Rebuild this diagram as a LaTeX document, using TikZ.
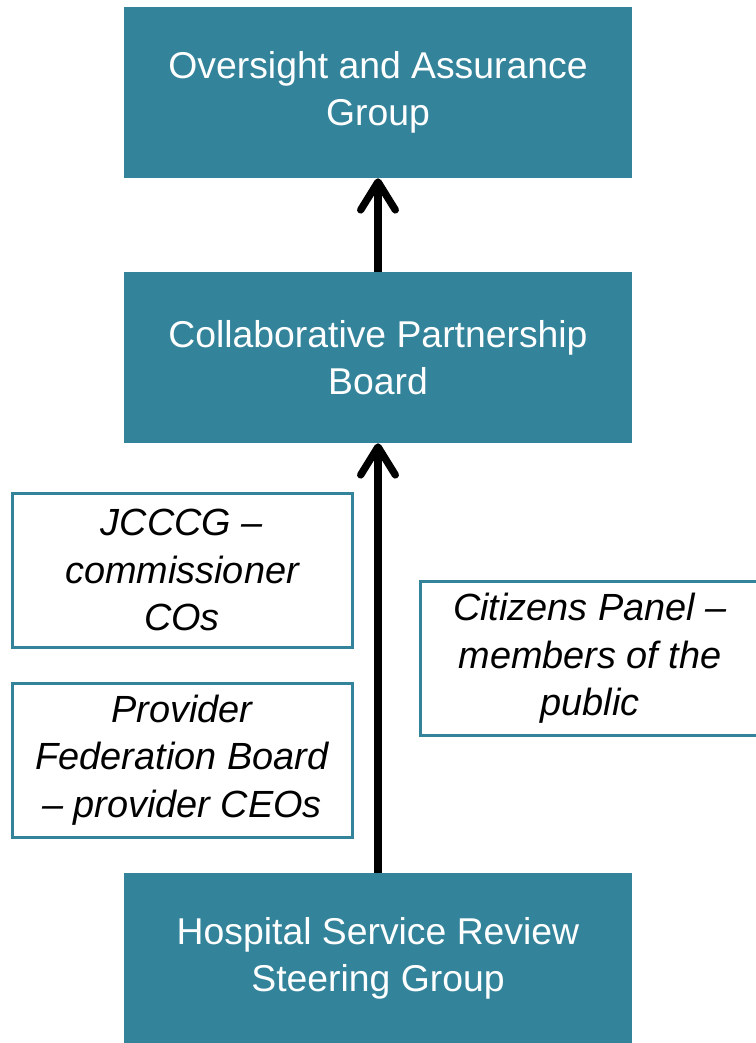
\documentclass[tikz,border=0pt]{standalone}
\usepackage{fontspec}
\setmainfont{Liberation Sans}
\usetikzlibrary{arrows.meta}
\definecolor{teal1}{HTML}{33849B}
\tikzset{
  mainbox/.style={rectangle, fill=teal1, draw=none, text=white, inner sep=0pt,
    minimum width=381pt, minimum height=128.25pt, align=center,
    font=\fontsize{28pt}{35.25pt}\selectfont},
  sidebox/.style={rectangle, fill=white, draw=teal1, line width=2.25pt, text=black, inner sep=0pt,
    minimum width=255pt, minimum height=115.5pt, align=center,
    font=\fontsize{28.4pt}{35.5pt}\selectfont\itshape},
  uparrow/.style={line width=5.5pt, -{Straight Barb[length=21pt, width=26pt, round]}}
}
\begin{document}
\begin{tikzpicture}[x=0.75pt, y=-0.75pt]
\useasboundingbox (0,0) rectangle (756,1043);
\fill[white] (0,0) rectangle (756,1043);
\node[mainbox] (top) at (378,92.5) {Oversight and Assurance\\Group};
\node[mainbox] (mid) at (378,357.5) {Collaborative Partnership\\Board};
\node[mainbox] (bot) at (378,958.5) {Hospital Service Review\\Steering Group};
\node[sidebox] (jc) at (182,570) {JCCCG --\\commissioner\\COs};
\node[sidebox] (pf) at (182,760) {Provider\\Federation Board\\-- provider CEOs};
\node[sidebox] (cp) at (590,658.5) {Citizens Panel --\\members of the\\public};
\draw[uparrow] (mid.north) -- (top.south);
\draw[uparrow] (bot.north) -- (mid.south);
\end{tikzpicture}
\end{document}
